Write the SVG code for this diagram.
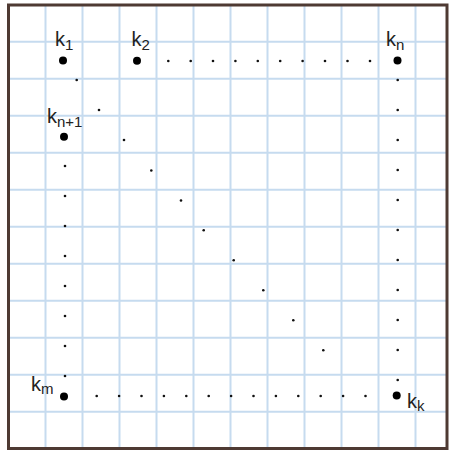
<svg xmlns="http://www.w3.org/2000/svg" width="449" height="451" viewBox="0 0 449 451">
<style>
.grid line{stroke:#c6dbef;stroke-width:2}
.big{fill:#000}
.sm{fill:#111}
.lbl{font-family:"Liberation Sans",Arial,sans-serif;font-size:20px;fill:#222}
.sub{font-size:15px}
</style>
<rect x="0" y="0" width="449" height="451" fill="#fff"/>
<g class="grid">
<line x1="45.5" y1="5" x2="45.5" y2="449"/>
<line x1="82.5" y1="5" x2="82.5" y2="449"/>
<line x1="119.5" y1="5" x2="119.5" y2="449"/>
<line x1="156.5" y1="5" x2="156.5" y2="449"/>
<line x1="193.5" y1="5" x2="193.5" y2="449"/>
<line x1="230.5" y1="5" x2="230.5" y2="449"/>
<line x1="267.5" y1="5" x2="267.5" y2="449"/>
<line x1="304.5" y1="5" x2="304.5" y2="449"/>
<line x1="341.5" y1="5" x2="341.5" y2="449"/>
<line x1="378.5" y1="5" x2="378.5" y2="449"/>
<line x1="415.5" y1="5" x2="415.5" y2="449"/>
<line x1="8" y1="41.7" x2="447" y2="41.7"/>
<line x1="8" y1="78.7" x2="447" y2="78.7"/>
<line x1="8" y1="115.7" x2="447" y2="115.7"/>
<line x1="8" y1="152.7" x2="447" y2="152.7"/>
<line x1="8" y1="189.7" x2="447" y2="189.7"/>
<line x1="8" y1="226.7" x2="447" y2="226.7"/>
<line x1="8" y1="263.7" x2="447" y2="263.7"/>
<line x1="8" y1="300.7" x2="447" y2="300.7"/>
<line x1="8" y1="337.7" x2="447" y2="337.7"/>
<line x1="8" y1="374.7" x2="447" y2="374.7"/>
<line x1="8" y1="411.7" x2="447" y2="411.7"/>
</g>
<rect x="8.5" y="5" width="438.5" height="443.5" fill="none" stroke="#4e3a33" stroke-width="3"/>
<g id="connectors" class="sm">
<g id="top-row">
<circle cx="168.3" cy="61" r="1.3"/><circle cx="190.7" cy="61" r="1.3"/><circle cx="213" cy="61" r="1.3"/><circle cx="235.4" cy="61" r="1.3"/><circle cx="257.8" cy="61" r="1.3"/><circle cx="280.2" cy="61" r="1.3"/><circle cx="302.6" cy="61" r="1.3"/><circle cx="325" cy="61" r="1.3"/><circle cx="347.5" cy="61" r="1.3"/><circle cx="370" cy="61" r="1.3"/>
</g>
<g id="diagonal">
<circle cx="76.7" cy="80" r="1.3"/><circle cx="99" cy="110" r="1.3"/><circle cx="124" cy="140" r="1.3"/><circle cx="151.3" cy="170.5" r="1.3"/><circle cx="181" cy="200.5" r="1.3"/><circle cx="203.7" cy="230.3" r="1.3"/><circle cx="233.7" cy="260.3" r="1.3"/><circle cx="263.3" cy="290.3" r="1.3"/><circle cx="293.3" cy="320.3" r="1.3"/><circle cx="323.3" cy="350.3" r="1.3"/>
</g>
<g id="right-col">
<circle cx="397.7" cy="80" r="1.3"/><circle cx="397.7" cy="110" r="1.3"/><circle cx="397.7" cy="140" r="1.3"/><circle cx="397.7" cy="170" r="1.3"/><circle cx="397.7" cy="200" r="1.3"/><circle cx="397.7" cy="230" r="1.3"/><circle cx="397.7" cy="260" r="1.3"/><circle cx="397.7" cy="290" r="1.3"/><circle cx="397.7" cy="320" r="1.3"/><circle cx="397.7" cy="350" r="1.3"/><circle cx="397.7" cy="380" r="1.3"/>
</g>
<g id="left-col">
<circle cx="65" cy="166" r="1.3"/><circle cx="65" cy="196" r="1.3"/><circle cx="65" cy="226" r="1.3"/><circle cx="65" cy="256" r="1.3"/><circle cx="65" cy="286" r="1.3"/><circle cx="65" cy="316" r="1.3"/><circle cx="65" cy="346" r="1.3"/><circle cx="65" cy="376" r="1.3"/>
</g>
<g id="bottom-row">
<circle cx="96.7" cy="396" r="1.3"/><circle cx="119.1" cy="396" r="1.3"/><circle cx="141.5" cy="396" r="1.3"/><circle cx="163.9" cy="396" r="1.3"/><circle cx="186.3" cy="396" r="1.3"/><circle cx="208.7" cy="396" r="1.3"/><circle cx="231.1" cy="396" r="1.3"/><circle cx="253.5" cy="396" r="1.3"/><circle cx="275.9" cy="396" r="1.3"/><circle cx="298.3" cy="396" r="1.3"/><circle cx="320.7" cy="396" r="1.3"/><circle cx="343.1" cy="396" r="1.3"/><circle cx="365.5" cy="396" r="1.3"/>
</g>
</g>
<g id="node-k1"><circle class="big" cx="63" cy="60.5" r="4"/><text class="lbl" x="55" y="46">k<tspan class="sub" dy="4">1</tspan></text></g>
<g id="node-k2"><circle class="big" cx="137" cy="60.7" r="4"/><text class="lbl" x="131.5" y="46">k<tspan class="sub" dy="4">2</tspan></text></g>
<g id="node-kn"><circle class="big" cx="397.5" cy="60.5" r="4"/><text class="lbl" x="386" y="46">k<tspan class="sub" dy="4">n</tspan></text></g>
<g id="node-kn1"><circle class="big" cx="64" cy="136.7" r="4"/><text class="lbl" x="47" y="123">k<tspan class="sub" dy="4">n+1</tspan></text></g>
<g id="node-km"><circle class="big" cx="64" cy="396.5" r="4"/><text class="lbl" x="31" y="391">k<tspan class="sub" dy="2.5">m</tspan></text></g>
<g id="node-kk"><circle class="big" cx="396.7" cy="395.5" r="4"/><text class="lbl" x="407" y="408">k<tspan class="sub" dy="2.5">k</tspan></text></g>
</svg>
